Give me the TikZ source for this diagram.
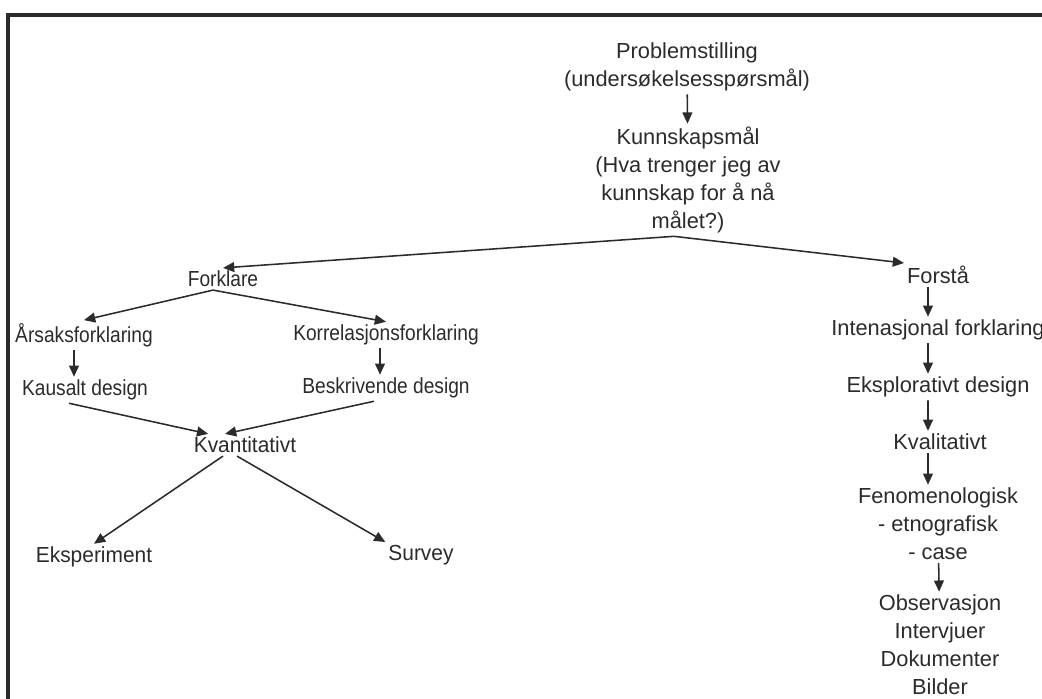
\documentclass[tikz,border=0pt]{standalone}
\usepackage{fontspec}
\setmainfont{Liberation Sans}
\newfontfamily\narrowsans[FakeStretch=0.88]{Liberation Sans}
\newfontfamily\slimsans[FakeStretch=0.96]{Liberation Sans}
\usetikzlibrary{positioning, arrows.meta}
\definecolor{inkgray}{HTML}{2B2B2B}

\begin{document}
\begin{tikzpicture}[x=0.025cm, y=-0.025cm,
    every node/.style={text=inkgray, align=center, inner sep=2pt,
      font=\fontsize{15.5pt}{20pt}\selectfont},
    narrow/.style={font=\fontsize{15.5pt}{20pt}\narrowsans},
    slim/.style={font=\fontsize{15.5pt}{20pt}\slimsans},
    flow/.style={-{Triangle[length=8pt, width=7pt]}, draw=inkgray, line width=1.1pt}]
  \useasboundingbox (0, 0) rectangle (1042, 699);
  % frame of the scanned page
  \draw[inkgray, line width=2.2pt] (8, 699) -- (8, 15) -- (1042, 15);

  \node (prob) at (687, 67) {Problemstilling\\(undersøkelsesspørsmål)};
  \node (kunn) at (688, 180) {Kunnskapsmål\\(Hva trenger jeg av\\kunnskap for å nå\\målet?)};
  \node[narrow] (forklare) at (223, 279) {Forklare};
  \node (forsta) at (938, 275) {Forstå};
  \node[narrow] (arsak) at (84, 335) {Årsaksforklaring};
  \node[narrow] (korr) at (386, 335) {Korrelasjonsforklaring};
  \node[narrow] (kausal) at (85, 390) {Kausalt design};
  \node[narrow] (beskr) at (386, 388) {Beskrivende design};
  \node[slim] (kvant) at (245, 445) {Kvantitativt};
  \node[slim] (eksper) at (94, 557) {Eksperiment};
  \node[slim] (survey) at (421, 555) {Survey};
  \node (intens) at (938, 330) {Intenasjonal forklaring};
  \node (explor) at (938, 387) {Eksplorativt design};
  \node (kvali) at (940, 442) {Kvalitativt};
  \node (fenom) at (938, 524) {Fenomenologisk\\- etnografisk\\- case};
  \node (metode) at (940, 645) {Observasjon\\Intervjuer\\Dokumenter\\Bilder};

  \draw[flow] (prob) -- (kunn);
  \draw[flow] ([xshift=-0.35cm]kunn.south) -- (forklare.north);
  \draw[flow] ([xshift=-0.35cm]kunn.south) -- (forsta.north west);
  \draw[flow] ([xshift=-0.25cm]forklare.south) -- (arsak.north);
  \draw[flow] ([xshift=-0.25cm]forklare.south) -- (korr.north);
  \draw[flow] ([xshift=-0.25cm]arsak.south) -- ([xshift=-0.25cm]arsak.south |- kausal.north);
  \draw[flow] ([xshift=-0.15cm]korr.south) -- ([xshift=-0.15cm]korr.south |- beskr.north);
  \draw[flow] ([xshift=-0.4cm]kausal.south) -- ([xshift=-0.92cm]kvant.north);
  \draw[flow] ([xshift=-0.3cm]beskr.south) -- ([xshift=-0.5cm]kvant.north);
  \draw[flow] ([xshift=-0.55cm]kvant.south) -- (eksper.north);
  \draw[flow] ([xshift=-0.2cm]kvant.south) -- (survey.north west);
  \draw[flow] ([xshift=-0.25cm]forsta.south) -- ([xshift=-0.25cm]intens.north);
  \draw[flow] ([xshift=-0.25cm]intens.south) -- ([xshift=-0.25cm]explor.north);
  \draw[flow] ([xshift=-0.25cm]explor.south) -- ([xshift=-0.3cm]kvali.north);
  \draw[flow] ([xshift=-0.3cm]kvali.south) -- ([xshift=-0.3cm]kvali.south |- fenom.north);
  \draw[flow] (fenom) -- (metode);
\end{tikzpicture}
\end{document}
